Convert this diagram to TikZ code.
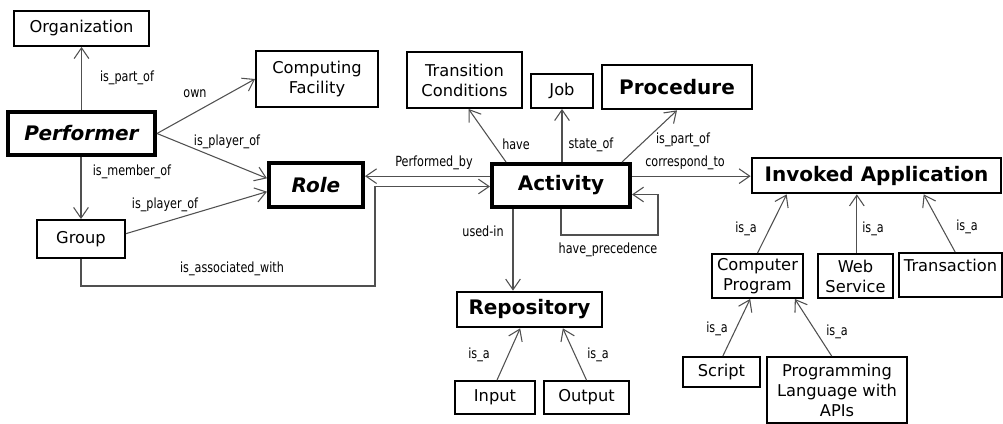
\documentclass[tikz,border=0pt]{standalone}
\usepackage{fontspec}
\setmainfont{DejaVu Sans}
\newfontfamily\lblfont[FakeStretch=0.8]{DejaVu Sans}
\usetikzlibrary{arrows.meta}
\definecolor{edgecol}{HTML}{505050}
\begin{document}
\begin{tikzpicture}[x=0.75pt,y=-0.75pt,
  box/.style={draw=black, line width=1.4pt, inner sep=0pt, align=center,
    font=\fontsize{12.2}{15}\selectfont},
  bx/.style 2 args={minimum width=#1*0.75pt, minimum height=#2*0.75pt},
  keybox/.style={box, line width=3pt, font=\fontsize{15}{18}\bfseries\itshape\selectfont},
  actbox/.style={box, line width=3pt, font=\fontsize{15}{18}\bfseries\selectfont},
  boldbox/.style={box, line width=2pt, font=\fontsize{15}{18}\bfseries\selectfont},
  lbl/.style={inner sep=0pt, font=\lblfont\fontsize{10.5}{12}\selectfont},
  arr/.style={draw=edgecol, line width=0.8pt,
    -{Straight Barb[length=8pt, width=11pt, line width=0.8pt]}}
]
\useasboundingbox (0,0) rectangle (1003,424);

% nodes
\node[box, bx={135}{35}] (org) at (81.5,28.5) {Organization};
\node[box, bx={122}{56}] (comp) at (317,79) {Computing\\Facility};
\node[keybox, bx={147}{43}] (perf) at (81.5,133.5) {Performer};
\node[keybox, bx={94}{44}] (role) at (316,185) {Role};
\node[box, bx={88}{38}] (group) at (81,239) {Group};
\node[box, bx={115}{56}] (trans) at (464.5,80) {Transition\\Conditions};
\node[box, bx={62}{34}] (job) at (562,91) {Job};
\node[boldbox, bx={150}{44}] (proc) at (677,87) {Procedure};
\node[actbox, bx={138}{43}] (act) at (561,185.5) {Activity};
\node[boldbox, bx={249}{35}] (inv) at (876.5,175.5) {Invoked Application};
\node[box, bx={91}{44}] (cp) at (757.5,276) {Computer\\Program};
\node[box, bx={75}{44}] (ws) at (855.5,276) {Web\\Service};
\node[box, bx={103}{44}] (tr) at (950.5,275) {Transaction\\\mbox{}};
\node[box, bx={77}{30}] (script) at (721.5,372) {Script};
\node[box, bx={140}{66}] (pl) at (837,390) {Programming\\Language with\\APIs};
\node[boldbox, bx={145}{35}] (repo) at (529.5,309.5) {Repository};
\node[box, bx={80}{33}] (input) at (495,397.5) {Input};
\node[box, bx={85}{33}] (output) at (586.5,397.5) {Output};

% helper coordinates
\coordinate (assoc) at (375,286);
\coordinate (loopc) at (658,235);

% connectors
\draw[arr] (perf.north -| org.south) -- (org.south);
\draw[arr] (perf.south -| group.north) -- (group.north);
\draw[arr] (perf.east) -- (comp.west);
\draw[arr] (perf.east) -- ([yshift=5pt]role.west);
\draw[arr] ([yshift=4pt]group.east) -- ([yshift=-5pt]role.west);
\draw[arr] (group.south) |- (assoc) |- ([yshift=-0.75pt]act.west);
\draw[arr] ([yshift=7pt]act.west) coordinate (pb) -- (pb -| role.east);
\draw[arr] ([xshift=12pt]act.north west) -- ([xshift=3pt]trans.south);
\draw[arr] (job.south |- act.north) -- (job.south);
\draw[arr] ([xshift=-7.5pt]act.north east) -- (proc.south);
\draw[arr] ([yshift=7pt]act.east) coordinate (ct) -- (ct -| inv.west);
\draw[arr] (act.south) |- (loopc) |- ([yshift=-6.75pt]act.east);
\draw[arr] ([xshift=17.25pt]act.south west) coordinate (ui) -- (ui |- repo.north);
\draw[arr] ([xshift=1.5pt]input.north) -- ([xshift=-7pt]repo.south);
\draw[arr] (output.north) -- ([xshift=25pt]repo.south);
\draw[arr] (cp.north) -- ([xshift=27pt]inv.south west);
\draw[arr] ([xshift=1pt]ws.north) -- ([xshift=1pt]ws.north |- inv.south);
\draw[arr] ([xshift=3.5pt]tr.north) -- ([xshift=-59pt]inv.south east);
\draw[arr] ([xshift=1pt]script.north) -- ([xshift=-5.5pt]cp.south);
\draw[arr] ([xshift=-4pt]pl.north) -- ([xshift=28pt]cp.south);

% labels
\node[lbl] (l1) at (127,78) {is\_part\_of};
\node[lbl] (l2) at (195,94) {own};
\node[lbl] (l3) at (227,142) {is\_player\_of};
\node[lbl] (l4) at (132,172) {is\_member\_of};
\node[lbl] (l5) at (165,205) {is\_player\_of};
\node[lbl] (l6) at (232,269) {is\_associated\_with};
\node[lbl] (l7) at (434,163) {Performed\_by};
\node[lbl] (l8) at (516,144) {have};
\node[lbl] (l9) at (591,145) {state\_of};
\node[lbl] (l10) at (683,140) {is\_part\_of};
\node[lbl] (l11) at (685,163) {correspond\_to};
\node[lbl] (l12) at (483,231) {used-in};
\node[lbl] (l13) at (608,250) {have\_precedence};
\node[lbl] (l14) at (479,355) {is\_a};
\node[lbl] (l15) at (598,355) {is\_a};
\node[lbl] (l16) at (746,229) {is\_a};
\node[lbl] (l17) at (873,229) {is\_a};
\node[lbl] (l18) at (967,227) {is\_a};
\node[lbl] (l19) at (717,329) {is\_a};
\node[lbl] (l20) at (837,332) {is\_a};
\end{tikzpicture}
\end{document}
